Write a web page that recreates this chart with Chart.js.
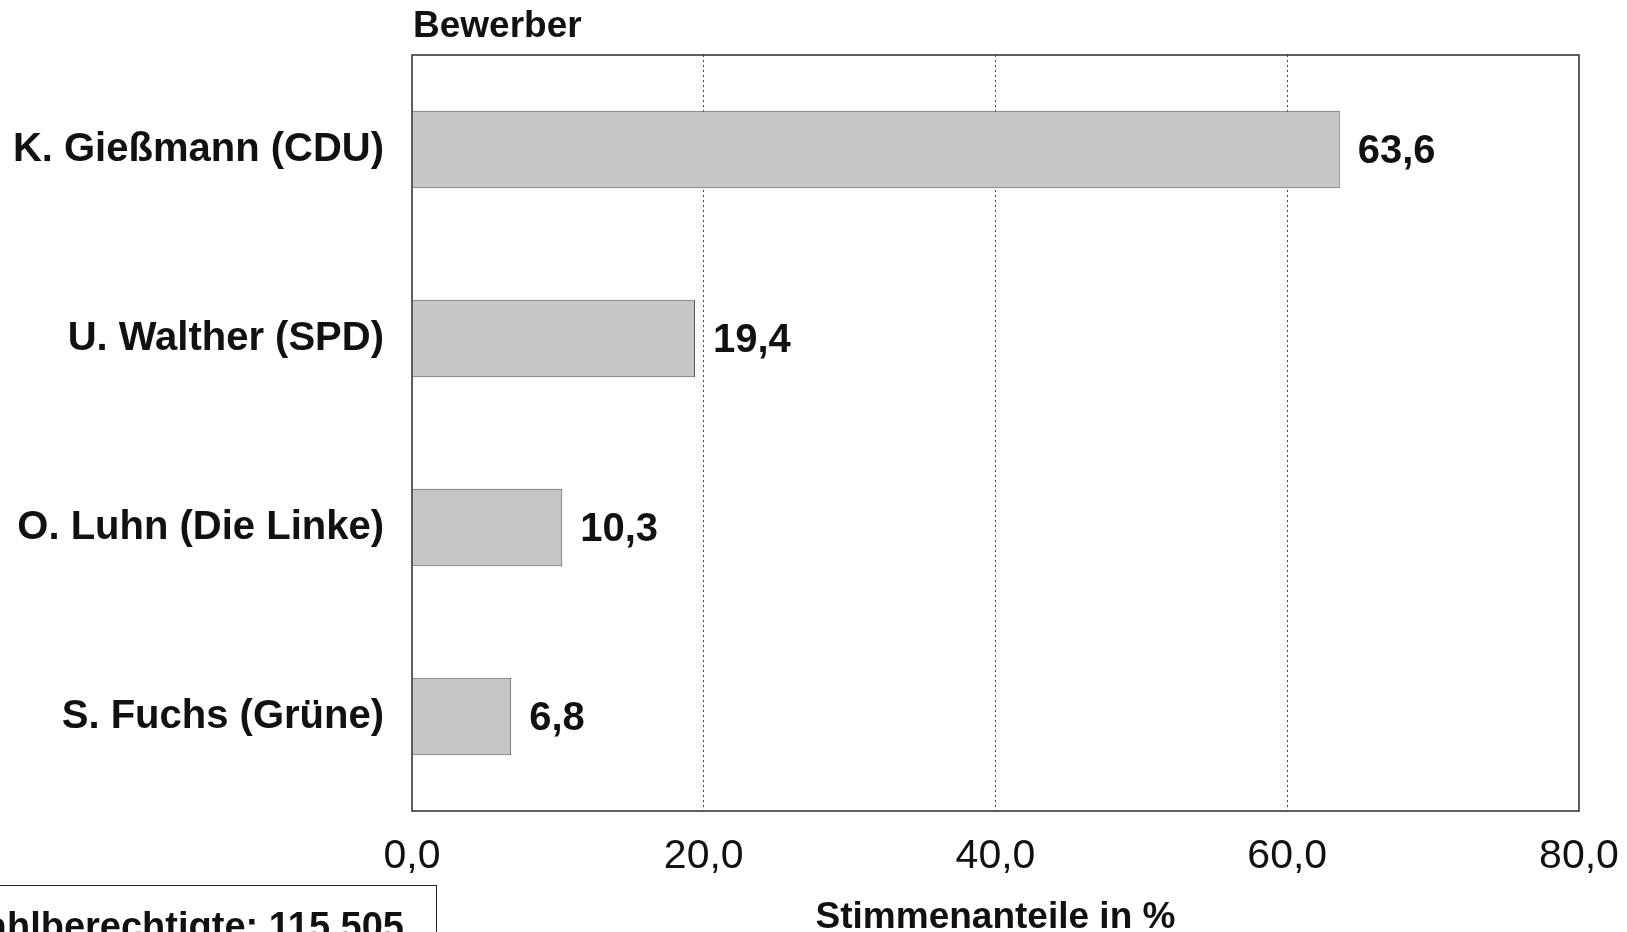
<!DOCTYPE html>
<html><head><meta charset="utf-8">
<script src="https://cdn.jsdelivr.net/npm/chart.js@4.4.1/dist/chart.umd.min.js"></script>
<style>
html,body{margin:0;padding:0;background:#fff;overflow:hidden;}
#wrap{position:relative;width:1627px;height:932px;}
#note{position:absolute;left:-60px;top:885px;width:497px;height:80px;border:1.5px solid #222;box-sizing:border-box;
 font:bold 38px "Liberation Sans",Arial,sans-serif;color:#111;text-align:right;padding:19px 32px 0 0;white-space:nowrap;}
</style></head>
<body><div id="wrap"><canvas id="c" width="1627" height="932"></canvas>
<div id="note">Wahlberechtigte: 115.505</div></div>
<script>
const categories = ["K. Gießmann (CDU)", "U. Walther (SPD)", "O. Luhn (Die Linke)", "S. Fuchs (Grüne)"];
const shares = [63.6, 19.4, 10.3, 6.8];
const tickValues = [0, 20, 40, 60, 80];
const yAxisTitle = "Bewerber";
const xAxisTitle = "Stimmenanteile in %";

const fmt = v => v.toFixed(1).replace('.', ',');
const FONT = '"Liberation Sans", Arial, sans-serif';

const extras = {
  id: 'extras',
  afterDatasetsDraw(chart) {
    const {ctx, chartArea: a} = chart;
    ctx.save();
    ctx.strokeStyle = '#2a2a2a';
    ctx.lineWidth = 1.5;
    ctx.strokeRect(a.left, a.top, a.right - a.left, a.bottom - a.top);
    ctx.fillStyle = '#111';
    ctx.font = 'bold 40px ' + FONT;
    ctx.textAlign = 'left';
    ctx.textBaseline = 'middle';
    const meta = chart.getDatasetMeta(0);
    meta.data.forEach((bar, i) => {
      ctx.fillText(fmt(shares[i]), bar.x + 18, bar.y + 2);
    });
    ctx.font = 'bold 37px ' + FONT;
    ctx.fillText(yAxisTitle, a.left + 1, 27);
    ctx.restore();
  }
};

new Chart(document.getElementById('c'), {
  type: 'bar',
  data: {
    labels: categories,
    datasets: [{
      data: shares,
      backgroundColor: '#c6c6c6',
      borderColor: '#555',
      borderWidth: 1,
      barPercentage: 0.41,
      categoryPercentage: 1.0
    }]
  },
  options: {
    indexAxis: 'y',
    responsive: false,
    animation: false,
    events: [],
    layout: {padding: {top: 55, right: 48, left: 0, bottom: 0}},
    plugins: {legend: {display: false}, tooltip: {enabled: false}, title: {display: false}},
    scales: {
      x: {
        type: 'linear', min: 0, max: 80,
        afterBuildTicks: s => { s.ticks = tickValues.map(v => ({value: v})); },
        afterFit: s => { s.height = 121; s.paddingRight = 0; s.paddingLeft = 0; },
        grid: {
          drawTicks: false,
          color: c => (c.tick && (c.tick.value === 0 || c.tick.value === 80)) ? 'rgba(0,0,0,0)' : '#444',
          lineWidth: 1
        },
        border: {display: false, dash: [2, 3]},
        ticks: {
          padding: 21,
          color: '#111',
          font: {family: FONT, size: 41},
          callback: v => fmt(v)
        },
        title: {
          display: true, text: xAxisTitle, color: '#111',
          font: {family: FONT, size: 37, weight: 'bold'},
          padding: {top: 0, bottom: -8}
        }
      },
      y: {
        afterFit: s => { s.width = 412; },
        grid: {display: false, drawTicks: false},
        border: {display: false},
        ticks: {
          padding: 28,
          color: '#111',
          font: {family: FONT, size: 40, weight: 'bold'}
        }
      }
    }
  },
  plugins: [extras]
});
</script>
</body></html>
